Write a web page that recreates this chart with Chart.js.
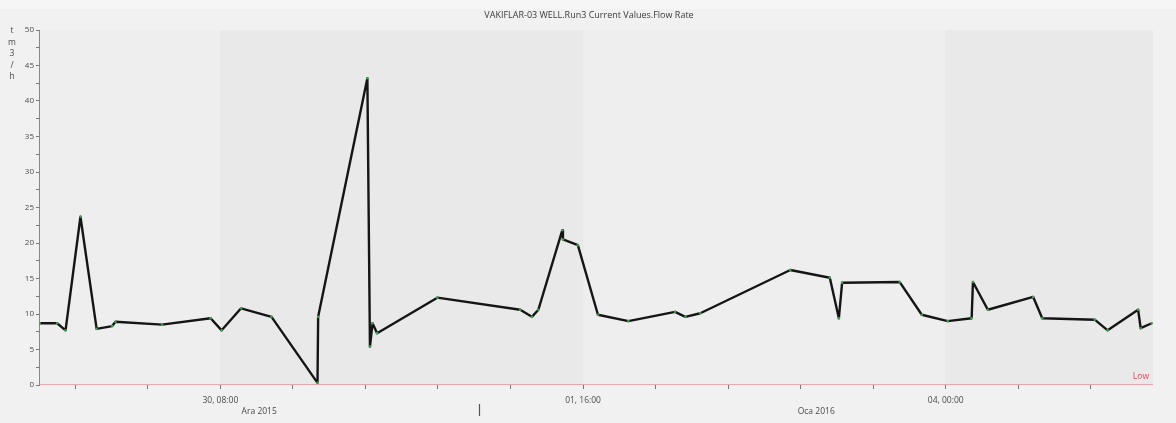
<!DOCTYPE html>
<html>
<head>
<meta charset="utf-8">
<script src="https://cdn.jsdelivr.net/npm/chart.js@4.4.0/dist/chart.umd.min.js"></script>
<style>
html,body{margin:0;padding:0;background:#f1f1f1;}
#wrap{width:1176px;height:423px;}
</style>
</head>
<body>
<div id="wrap"><canvas id="c" width="1176" height="423"></canvas></div>
<script>
// Hours relative to 30 Dec 2015 08:00
const hours = [-27.9,-25.2,-23.9,-21.6,-19.1,-16.7,-16.2,-9.0,-1.5,0.2,3.2,7.9,15.0,15.1,22.7,23.1,23.5,24.2,33.5,46.3,48.1,49.1,52.8,52.9,55.2,58.3,63.0,70.2,71.8,74.1,88.0,94.1,95.5,96.0,104.9,108.3,112.3,116.0,116.2,118.5,125.5,126.9,135.0,137.0,141.7,142.1,143.8];
const flow  = [8.7,8.7,7.7,23.7,7.9,8.3,8.9,8.5,9.4,7.7,10.8,9.6,0.3,9.6,43.2,5.4,8.7,7.3,12.3,10.6,9.6,10.6,21.8,20.5,19.7,9.9,9.0,10.3,9.6,10.1,16.2,15.1,9.4,14.4,14.5,9.9,9.0,9.4,14.5,10.6,12.4,9.4,9.2,7.7,10.6,8.0,8.7];
const xTickHours = [-22.4,-11.2,0,11.2,22.4,33.6,44.8,56,67.2,78.4,89.6,100.8,112,123.2,134.4];
const xTickLabels = {0:"30, 08:00",56:"01, 16:00",112:"04, 00:00"};
const bands = [[0,56],[112,144]];
const monthLabels = [{at:[-28,40],text:"Ara 2015"},{at:[40,144],text:"Oca 2016"}];
const monthSep = [40];
const lowLimit = 0;
const xMin = -28, xMax = 144;
const yMin = 0, yMax = 50;
const title = "VAKIFLAR-03 WELL.Run3 Current Values.Flow Rate";
const unitLetters = ["t","m","3","/","h"];

const FONT = "'Open Sans', 'DejaVu Sans', sans-serif";

const decor = {
  id:'decor',
  beforeDraw(chart){
    const {ctx, chartArea:a, scales:{x}} = chart;
    ctx.save();
    ctx.fillStyle = '#f1f1f1';
    ctx.fillRect(0,0,chart.width,chart.height);
    ctx.fillStyle = '#f6f6f6';
    ctx.fillRect(0,0,chart.width,9);
    ctx.fillStyle = '#eeeeee';
    ctx.fillRect(a.left,a.top,a.right-a.left,a.bottom-a.top);
    ctx.fillStyle = '#e9e9e9';
    bands.forEach(b=>{
      const x0 = x.getPixelForValue(b[0]), x1 = x.getPixelForValue(b[1]);
      ctx.fillRect(x0,a.top,x1-x0,a.bottom-a.top);
    });
    ctx.restore();
  },
  afterDraw(chart){
    const {ctx, chartArea:a, scales:{x}} = chart;
    ctx.save();
    ctx.fillStyle = '#3a3a3a';
    ctx.font = "9px " + FONT;
    ctx.textAlign = 'center';
    ctx.textBaseline = 'middle';
    ctx.fillText(title, 589, 15);
    ctx.fillStyle = '#4a4a4a';
    ctx.font = "8.5px " + FONT;
    unitLetters.forEach((l,i)=>ctx.fillText(l, 12, 31 + i*11.5));
    monthLabels.forEach(m=>{
      const cx = (x.getPixelForValue(m.at[0]) + x.getPixelForValue(m.at[1]))/2;
      ctx.fillText(m.text, cx, 412);
    });
    ctx.strokeStyle = '#555';
    ctx.lineWidth = 1.2;
    monthSep.forEach(s=>{
      const px = Math.round(x.getPixelForValue(s)) + 0.5;
      ctx.beginPath(); ctx.moveTo(px,404); ctx.lineTo(px,416); ctx.stroke();
    });
    ctx.fillStyle = '#e0465a';
    ctx.textAlign = 'right';
    ctx.fillText("Low", a.right - 4, 377);
    ctx.restore();
  }
};

new Chart(document.getElementById('c'), {
  type:'scatter',
  data:{
    datasets:[
      {
        label:'Low',
        data:[{x:xMin,y:lowLimit},{x:xMax,y:lowLimit}],
        showLine:true, borderColor:'#e46470', borderWidth:1.2, pointRadius:0
      },
      {
        label:'Flow Rate',
        data:hours.map((h,i)=>({x:h,y:flow[i]})),
        showLine:true, borderColor:'#151515', borderWidth:2.4,
        borderJoinStyle:'round',
        pointRadius:1.3, pointBackgroundColor:'#3fa34d', pointBorderWidth:0,
        tension:0
      }
    ]
  },
  plugins:[decor],
  options:{
    responsive:false,
    animation:false,
    layout:{padding:{left:0,right:23,top:30,bottom:0}},
    plugins:{legend:{display:false},tooltip:{enabled:false}},
    scales:{
      x:{
        type:'linear', min:xMin, max:xMax,
        afterBuildTicks(s){ s.ticks = xTickHours.map(v=>({value:v})); },
        afterFit(s){ s.height = 38; },
        border:{display:false},
        grid:{drawOnChartArea:false, tickLength:4, tickColor:'#777'},
        ticks:{
          autoSkip:false, maxRotation:0, padding:6,
          color:'#4a4a4a', font:{size:8.5, family:FONT},
          callback:(v)=> xTickLabels[Math.round(v*10)/10] || ''
        }
      },
      y:{
        min:yMin, max:yMax,
        afterFit(s){ s.width = 39; },
        border:{display:true, color:'#888', width:1},
        grid:{drawOnChartArea:false, tickLength:3, tickColor:'#777'},
        ticks:{
          stepSize:2.5, padding:2,
          color:'#4a4a4a', font:{size:8, family:FONT},
          callback:(v)=> (v % 5 === 0) ? String(v) : ''
        }
      }
    }
  }
});
</script>
</body>
</html>
